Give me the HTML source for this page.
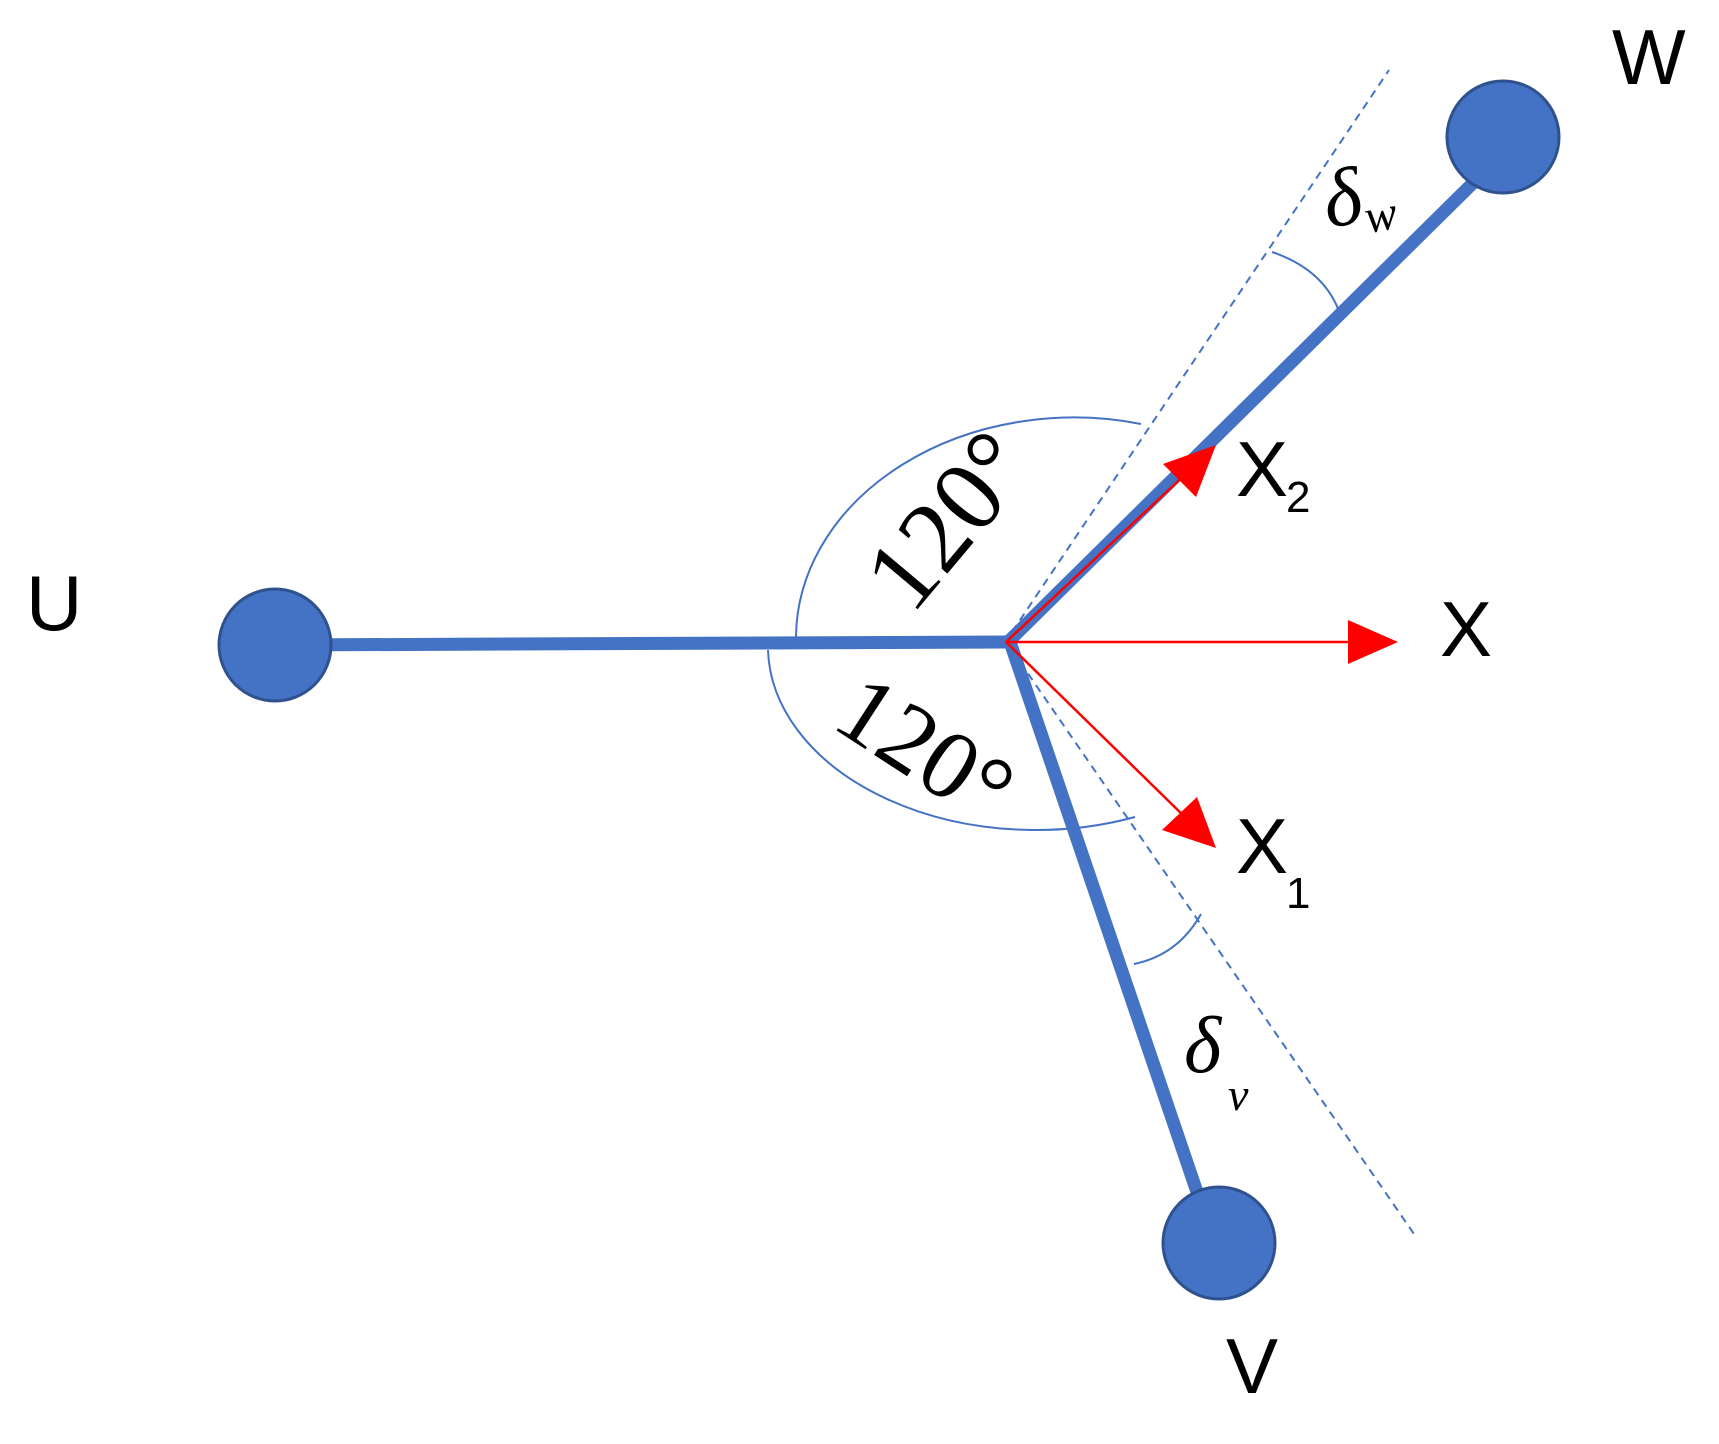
<!DOCTYPE html>
<html><head><meta charset="utf-8"><style>html,body{margin:0;padding:0;background:#fff;}svg{display:block}</style></head>
<body>
<svg width="1719" height="1444" viewBox="0 0 1719 1444" xmlns="http://www.w3.org/2000/svg">
<line x1="1012" y1="632" x2="1389" y2="70" stroke="#4472c4" stroke-width="2" stroke-dasharray="8,6"/>
<line x1="1020" y1="662" x2="1414" y2="1234" stroke="#4472c4" stroke-width="2" stroke-dasharray="8,6"/>
<path d="M796,640 A278,221 0 0 1 1141,424" fill="none" stroke="#4472c4" stroke-width="2"/>
<path d="M768,650 A268,184 0 0 0 1135,817" fill="none" stroke="#4472c4" stroke-width="2"/>
<path d="M1272,252 Q1325,270 1340,314" fill="none" stroke="#4472c4" stroke-width="2"/>
<path d="M1134,964 Q1178,955 1201,914" fill="none" stroke="#4472c4" stroke-width="2"/>
<line x1="275" y1="645" x2="1008" y2="642" stroke="#4472c4" stroke-width="13"/>
<line x1="1008" y1="642" x2="1474" y2="182" stroke="#4472c4" stroke-width="13"/>
<line x1="1010" y1="642" x2="1197" y2="1192" stroke="#4472c4" stroke-width="13"/>
<circle cx="275" cy="645" r="56" fill="#4472c4" stroke="#2f528f" stroke-width="3"/>
<circle cx="1503" cy="137" r="56" fill="#4472c4" stroke="#2f528f" stroke-width="3"/>
<circle cx="1219" cy="1243" r="56" fill="#4472c4" stroke="#2f528f" stroke-width="3"/>
<line x1="1006" y1="642" x2="1350" y2="642" stroke="#ff0000" stroke-width="2.5"/>
<path d="M1348,620 L1398,642 L1348,664 z" fill="#ff0000"/>
<line x1="1006" y1="642" x2="1190" y2="470" stroke="#ff0000" stroke-width="2.5"/>
<path d="M1163,464 L1216,445 L1196,497 z" fill="#ff0000"/>
<line x1="1006" y1="642" x2="1190" y2="822" stroke="#ff0000" stroke-width="2.5"/>
<path d="M1162,830 L1216,848 L1197,797 z" fill="#ff0000"/>
<g font-family="Liberation Sans, sans-serif" fill="#000">
<text x="26" y="630" font-size="78">U</text>
<text x="1612" y="84" font-size="78">W</text>
<text x="1440" y="656" font-size="78">X</text>
<text x="1236" y="496" font-size="78">X</text>
<text x="1286" y="512" font-size="44">2</text>
<text x="1236" y="873" font-size="78">X</text>
<text x="1286" y="908" font-size="44">1</text>
<text x="1226" y="1393" font-size="78">V</text>
</g>
<g font-family="Liberation Serif, serif" fill="#000">
<text x="0" y="34" font-size="102" text-anchor="middle" transform="translate(948,520) rotate(-50)">120°</text>
<text x="0" y="34" font-size="98" text-anchor="middle" transform="translate(926,748) rotate(33)">120°</text>
<text x="0" y="0" font-size="82" font-style="italic" transform="translate(1328,228) rotate(-10)">δ<tspan font-size="48" dy="12">w</tspan></text>
<text x="1184" y="1072" font-size="80" font-style="italic">δ</text>
<text x="1228" y="1110" font-size="46" font-style="italic">v</text>
</g>
</svg>
</body></html>
